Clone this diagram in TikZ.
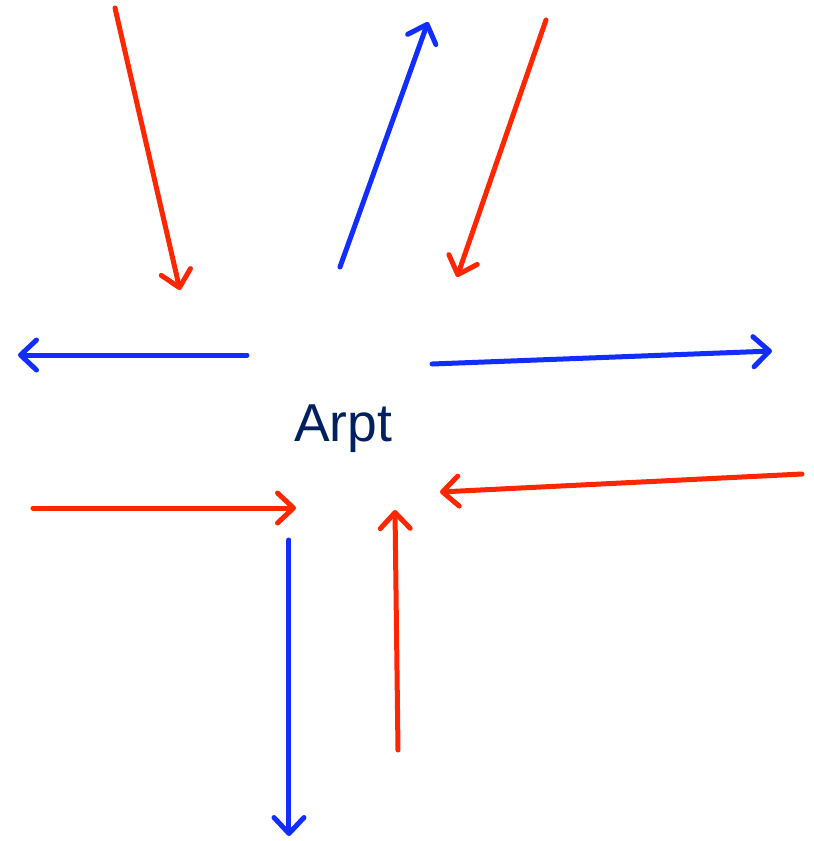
\documentclass[tikz,border=0pt]{standalone}
\usepackage{fontspec}
\setmainfont{Liberation Sans}
\usetikzlibrary{arrows.meta}
\definecolor{inred}{RGB}{255,38,0}
\definecolor{outblue}{RGB}{18,45,255}
\definecolor{navy}{RGB}{0,32,96}
\tikzset{>={Straight Barb[length=1.6mm,width=3mm,round]}}
\tikzset{flow/.style={line width=0.5mm, line cap=round, ->}}

\begin{document}
\begin{tikzpicture}[x=0.1mm, y=-0.1mm]
            \useasboundingbox (0,0) rectangle (814,841);

            \node[text=navy, font=\fontsize{15.2pt}{16pt}\selectfont] (arpt) at (343,429) {Arpt};

            % incoming (red)
            \coordinate (r1a) at (115,8);   \coordinate (r1b) at (180,290);
            \coordinate (r2a) at (546,20);  \coordinate (r2b) at (457,277);
            \coordinate (r3a) at (33,508);  \coordinate (r3b) at (296,508);
            \coordinate (r4a) at (802,474); \coordinate (r4b) at (440,492);
            \coordinate (r5a) at (398,750); \coordinate (r5b) at (395,510);

            % outgoing (blue)
            \coordinate (b1a) at (340,267); \coordinate (b1b) at (428,22);
            \coordinate (b2a) at (247,355); \coordinate (b2b) at (18,355);
            \coordinate (b3a) at (432,364); \coordinate (b3b) at (772,351);
            \coordinate (b4a) at (289,540); \coordinate (b4b) at (289,836);

            \foreach \i in {1,...,5}
            {
            \draw[flow, inred] (r\i a) -- (r\i b);
            }

            \foreach \i in {1,...,4}
            {
            \draw[flow, outblue] (b\i a) -- (b\i b);
            }
        \end{tikzpicture}
\end{document}
